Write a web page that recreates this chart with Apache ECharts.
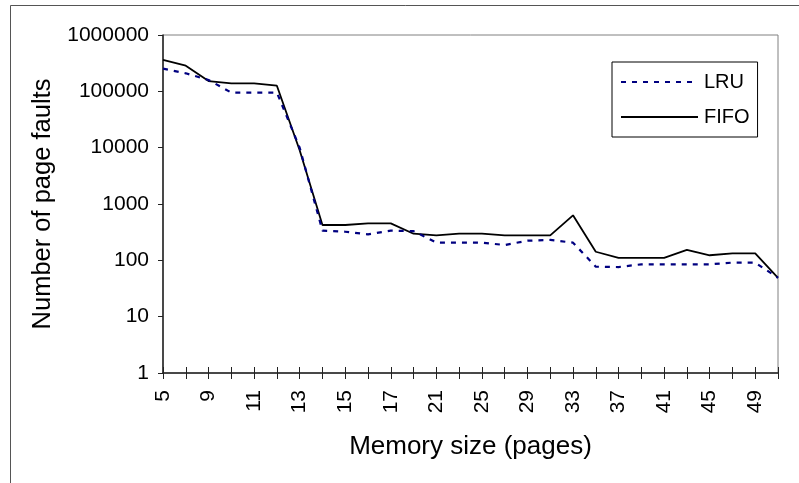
<!DOCTYPE html>
<html>
<head>
<meta charset="utf-8">
<script src="https://cdn.jsdelivr.net/npm/echarts@6/dist/echarts.min.js"></script>
<style>
  html, body { margin: 0; padding: 0; background: #fff; }
  #chart { width: 799px; height: 483px; }
</style>
</head>
<body>
<div id="chart"></div>
<script>
// Memory sizes (pages) on the category axis
const memorySizes = ['5','7','9','10','11','12','13','14','15','16','17','19','21','23','25','27','29','31','33','35','37','39','41','43','45','47','49','50'];

// Page fault counts per replacement policy
const lruFaults  = [253000, 209000, 159000, 95000, 95000, 95000, 10000, 336, 322, 289, 336, 330, 206, 206, 206, 187, 223, 230, 206, 77, 76, 85, 85, 85, 85, 91, 91, 49];
const fifoFaults = [360000, 285000, 152000, 138000, 138000, 126000, 9000, 424, 424, 454, 454, 297, 278, 297, 297, 278, 278, 278, 630, 142, 111, 111, 111, 153, 123, 133, 133, 49];

const FONT = '"Liberation Sans", Arial, sans-serif';

const chart = echarts.init(document.getElementById('chart'), null, { renderer: 'canvas' });

chart.setOption({
  backgroundColor: '#ffffff',
  animation: false,
  textStyle: { fontFamily: FONT, color: '#000' },
  grid: {
    left: 163, top: 35, right: 21, bottom: 110,
    show: true, borderColor: '#808080', borderWidth: 1,
    outerBoundsMode: 'none'
  },
  graphic: [{
    type: 'rect',
    silent: true,
    z: -1,
    shape: { x: 10.5, y: 5.5, width: 900, height: 600 },
    style: { fill: null, stroke: '#555', lineWidth: 1 }
  }],
  legend: {
    orient: 'vertical',
    left: 612, top: 62,
    padding: [10, 8, 10, 8],
    itemWidth: 77, itemHeight: 14, itemGap: 15,
    borderColor: '#000', borderWidth: 1,
    itemStyle: { opacity: 0 },
    textStyle: { fontFamily: FONT, fontSize: 20, color: '#000', padding: [0, 0, 0, 1] },
    data: ['LRU', 'FIFO']
  },
  xAxis: [{
    type: 'category',
    data: memorySizes,
    boundaryGap: false,
    position: 'bottom',
    name: 'Memory size (pages)',
    nameLocation: 'middle',
    nameGap: 61,
    nameTextStyle: { fontFamily: FONT, fontSize: 26, color: '#000' },
    axisLine: { lineStyle: { color: '#222', width: 1.5 } },
    axisTick: { show: true, interval: 0, inside: false, length: 6, lineStyle: { color: '#222' } },
    axisLabel: { interval: 1, rotate: 90, margin: 17, fontFamily: FONT, fontSize: 21, color: '#000' },
    splitLine: { show: false }
  }, {
    // inner half of the crossing tick marks
    type: 'category',
    data: memorySizes,
    boundaryGap: false,
    position: 'bottom',
    axisLine: { show: false },
    axisTick: { show: true, interval: 0, inside: true, length: 6, lineStyle: { color: '#222' } },
    axisLabel: { show: false },
    splitLine: { show: false }
  }],
  yAxis: {
    type: 'log',
    logBase: 10,
    min: 1,
    max: 1000000,
    name: 'Number of page faults',
    nameLocation: 'middle',
    nameGap: 107,
    nameTextStyle: { fontFamily: FONT, fontSize: 25.5, color: '#000' },
    axisLine: { show: true, lineStyle: { color: '#222', width: 1.5 } },
    axisTick: { show: true, length: 5, lineStyle: { color: '#222' } },
    axisLabel: {
      margin: 14, fontFamily: FONT, fontSize: 21, color: '#000',
      formatter: v => String(Math.round(v))
    },
    splitLine: { show: false }
  },
  series: [{
    name: 'LRU',
    type: 'line',
    data: lruFaults,
    symbol: 'none',
    color: '#000080',
    lineStyle: { color: '#000080', width: 2.2, type: [5, 6] },
    z: 3
  }, {
    name: 'FIFO',
    type: 'line',
    data: fifoFaults,
    symbol: 'none',
    color: '#000000',
    lineStyle: { color: '#000000', width: 1.8, type: 'solid' },
    z: 2
  }]
});
</script>
</body>
</html>
